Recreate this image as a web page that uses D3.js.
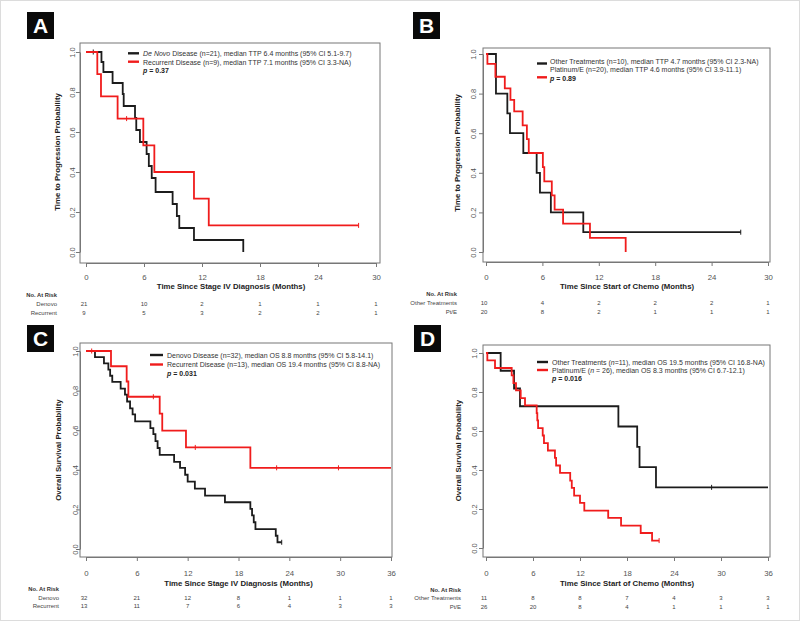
<!DOCTYPE html>
<html>
<head>
<meta charset="utf-8">
<script src="https://cdn.jsdelivr.net/npm/d3@7"></script>
<style>
  body { margin: 0; background: #fff; }
  text { font-family: Arial, "Liberation Sans", sans-serif; }
</style>
</head>
<body>
<svg id="chart" width="800" height="621"></svg>
<script>
// ---- shared ticks ----
const yTicks = [0, 0.2, 0.4, 0.6, 0.8, 1.0];
const ttpTicks = [0, 6, 12, 18, 24, 30];
const osTicks = [0, 6, 12, 18, 24, 30, 36];

// ---- panel A: TTP by disease type ----
const aDenovoTime = [1.6, 1.8, 2.75, 3.8, 3.9, 5.07, 5.2, 5.58, 6.27, 6.5, 6.8, 7.2, 8.96, 9.4, 9.65, 11.17, 16.27];
const aDenovoSurv = [0.95, 0.90, 0.845, 0.79, 0.73, 0.67, 0.61, 0.55, 0.49, 0.43, 0.37, 0.30, 0.24, 0.18, 0.12, 0.06, 0];
const aDenovoEnd = 16.27;
const aDenovoCensor = [0.75];
const aRecurTime = [1.17, 1.55, 3.27, 5.93, 7.07, 11.17, 12.7];
const aRecurSurv = [0.889, 0.778, 0.667, 0.533, 0.40, 0.267, 0.133];
const aRecurEnd = 28.2;
const aRecurCensor = [4.2, 28.2];
const aRiskDenovo = [21, 10, 2, 1, 1, 1];
const aRiskRecur = [9, 5, 3, 2, 2, 1];

// ---- panel B: TTP by treatment ----
const bOtherTime = [1.06, 2.27, 2.55, 3.97, 5.39, 5.74, 6.9, 10.35];
const bOtherSurv = [0.8, 0.7, 0.6, 0.5, 0.4, 0.3, 0.2, 0.1];
const bOtherEnd = 27.1;
const bOtherCensor = [27.1];
const bPlatTime = [0.15, 1.0, 2.0, 2.6, 3.0, 3.9, 4.35, 4.55, 6.05, 6.2, 7.0, 7.3, 8.2, 11.06, 14.86];
const bPlatSurv = [0.95, 0.885, 0.826, 0.768, 0.71, 0.64, 0.57, 0.5, 0.429, 0.357, 0.286, 0.214, 0.143, 0.071, 0];
const bPlatEnd = 14.86;
const bPlatCensor = [];
const bRiskOther = [10, 4, 2, 2, 2, 1];
const bRiskPlat = [20, 8, 2, 1, 1, 1];

// ---- panel C: OS by disease type ----
const cDenovoTime = [1.06, 2.12, 2.64, 2.85, 3.1, 4.09, 4.6, 4.85, 5.2, 5.5, 5.8, 7.6, 7.95, 8.2, 8.45, 8.7,
  10.4, 11.1, 11.7, 12.0, 12.85, 14.05, 16.4, 19.4, 19.6, 19.8, 20.0, 22.4, 22.6];
const cDenovoSurv = [0.969, 0.938, 0.906, 0.875, 0.844, 0.81, 0.78, 0.745, 0.71, 0.68, 0.645, 0.61, 0.58, 0.545, 0.51, 0.475,
  0.44, 0.41, 0.375, 0.34, 0.305, 0.27, 0.236, 0.203, 0.17, 0.135, 0.10, 0.067, 0.034];
const cDenovoEnd = 23.1;
const cDenovoCensor = [23.1];
const cRecurTime = [2.95, 4.8, 5.0, 8.7, 9.0, 11.8, 19.4];
const cRecurSurv = [0.923, 0.846, 0.769, 0.684, 0.598, 0.513, 0.41];
const cRecurEnd = 36;
const cRecurCensor = [0.67, 7.95, 12.9, 22.5, 29.8];
const cRiskDenovo = [32, 21, 12, 8, 1, 1, 1];
const cRiskRecur = [13, 11, 7, 6, 4, 3, 3];

// ---- panel D: OS by treatment ----
const dOtherTime = [1.87, 3.58, 4.34, 16.9, 19.3, 19.6, 21.7];
const dOtherSurv = [0.909, 0.818, 0.727, 0.623, 0.519, 0.415, 0.311];
const dOtherEnd = 36;
const dOtherCensor = [28.8];
const dPlatTime = [0.17, 1.15, 3.28, 3.5, 3.83, 4.43, 4.98, 6.47, 6.55, 6.65, 7.24, 7.4, 7.9, 8.8, 8.95,
  9.45, 10.75, 10.95, 11.25, 12.0, 12.55, 15.6, 17.24, 19.75, 21.2];
const dPlatSurv = [0.962, 0.923, 0.885, 0.846, 0.808, 0.769, 0.731, 0.692, 0.654, 0.615, 0.577, 0.538, 0.5, 0.462, 0.423,
  0.385, 0.346, 0.308, 0.269, 0.231, 0.192, 0.154, 0.115, 0.077, 0.038];
const dPlatEnd = 22.1;
const dPlatCensor = [22.1];
const dRiskOther = [11, 8, 8, 7, 4, 3, 3];
const dRiskPlat = [26, 20, 8, 4, 1, 1, 1];

const BLACK = "#1c1c1c";
const RED = "#f01c1c";

const panels = [
  {
    letter: "A", letterBox: [27, 12], xr: [86, 376], yr: [252, 52], frame: [80, 43, 380, 263],
    ticks: ttpTicks, xmax: 30, tickY: 280, yTickX: 72,
    xTitle: "Time Since Stage IV Diagnosis (Months)", xTitleY: 289,
    yTitle: "Time to Progression Probability", yTitleX: 57,
    curves: [
      { time: aDenovoTime, surv: aDenovoSurv, end: aDenovoEnd, censor: aDenovoCensor, color: BLACK },
      { time: aRecurTime, surv: aRecurSurv, end: aRecurEnd, censor: aRecurCensor, color: RED }
    ],
    legend: {
      lineX: [128, 139], textX: 143, textRows: [53, 62, 70], lineRows: [53.3, 61.7],
      rows: [[["De Novo", "italic"], [" Disease (n=21), median TTP 6.4 months (95% CI 5.1-9.7)", ""]],
             [["Recurrent Disease (n=9), median TTP 7.1 months (95% CI 3.3-NA)", ""]]],
      p: "0.37"
    },
    risk: { labelX: 57, headerY: 294.5, rows: [304, 313], labels: ["Denovo", "Recurrent"], values: [aRiskDenovo, aRiskRecur] }
  },
  {
    letter: "B", letterBox: [413, 12], xr: [486, 768], yr: [252, 54], frame: [483, 48, 770, 262],
    ticks: ttpTicks, xmax: 30, tickY: 280, yTickX: 473,
    xTitle: "Time Since Start of Chemo (Months)", xTitleY: 289,
    yTitle: "Time to Progression Probability", yTitleX: 457,
    curves: [
      { time: bOtherTime, surv: bOtherSurv, end: bOtherEnd, censor: bOtherCensor, color: BLACK },
      { time: bPlatTime, surv: bPlatSurv, end: bPlatEnd, censor: bPlatCensor, color: RED }
    ],
    legend: {
      lineX: [537, 547], textX: 550, textRows: [61, 69.5, 78], lineRows: [63.5, 77.3],
      rows: [[["Other Treatments (n=10), median TTP 4.7 months (95% CI 2.3-NA)", ""]],
             [["Platinum/E (n=20), median TTP 4.6 months (95% CI 3.9-11.1)", ""]]],
      p: "0.89"
    },
    risk: { labelX: 457, headerY: 293.5, rows: [302.7, 311.7], labels: ["Other Treatments", "Pt/E"], values: [bRiskOther, bRiskPlat] }
  },
  {
    letter: "C", letterBox: [27, 325], xr: [86, 391], yr: [549, 351], frame: [80, 343, 392, 557],
    ticks: osTicks, xmax: 36, tickY: 575.5, yTickX: 75,
    xTitle: "Time Since Stage IV Diagnosis (Months)", xTitleY: 586,
    yTitle: "Overall Survival Probability", yTitleX: 58,
    curves: [
      { time: cDenovoTime, surv: cDenovoSurv, end: cDenovoEnd, censor: cDenovoCensor, color: BLACK },
      { time: cRecurTime, surv: cRecurSurv, end: cRecurEnd, censor: cRecurCensor, color: RED }
    ],
    legend: {
      lineX: [150, 163], textX: 167, textRows: [355, 364.5, 373], lineRows: [355, 364.5],
      rows: [[["Denovo Disease (n=32), median OS 8.8 months (95% CI 5.8-14.1)", ""]],
             [["Recurrent Disease (n=13), median OS 19.4 months (95% CI 8.8-NA)", ""]]],
      p: "0.031"
    },
    risk: { labelX: 59, headerY: 588.5, rows: [597.7, 606], labels: ["Denovo", "Recurrent"], values: [cRiskDenovo, cRiskRecur] }
  },
  {
    letter: "D", letterBox: [414, 325], xr: [486, 768], yr: [548, 353], frame: [483, 345, 770, 557],
    ticks: osTicks, xmax: 36, tickY: 575.5, yTickX: 474,
    xTitle: "Time Since Start of Chemo (Months)", xTitleY: 586,
    yTitle: "Overall Survival Probability", yTitleX: 458,
    curves: [
      { time: dOtherTime, surv: dOtherSurv, end: dOtherEnd, censor: dOtherCensor, color: BLACK },
      { time: dPlatTime, surv: dPlatSurv, end: dPlatEnd, censor: dPlatCensor, color: RED }
    ],
    legend: {
      lineX: [537, 548], textX: 552, textRows: [362, 370, 378.3], lineRows: [362, 370],
      rows: [[["Other Treatments (", ""], ["n", "italic"], ["=11), median OS 19.5 months (95% CI 16.8-NA)", ""]],
             [["Platinum/E (", ""], ["n", "italic"], [" = 26), median OS 8.3 months (95% CI 6.7-12.1)", ""]]],
      p: "0.016"
    },
    risk: { labelX: 461, headerY: 590, rows: [598.3, 606.7], labels: ["Other Treatments", "Pt/E"], values: [dRiskOther, dRiskPlat] }
  }
];

const svg = d3.select("#chart");

// faint outer frame
svg.append("rect").attr("x", 0.5).attr("y", 0.5).attr("width", 799).attr("height", 620)
  .attr("fill", "#fff").attr("stroke", "#dcdcdc");

function survAt(curve, t) {
  let s = 1;
  curve.time.forEach((ti, i) => { if (ti <= t) s = curve.surv[i]; });
  return s;
}

panels.forEach(p => {
  const g = svg.append("g");
  const x = d3.scaleLinear().domain([0, p.xmax]).range(p.xr);
  const y = d3.scaleLinear().domain([0, 1]).range(p.yr);
  const [fx0, fy0, fx1, fy1] = p.frame;

  // panel letter
  g.append("rect").attr("x", p.letterBox[0]).attr("y", p.letterBox[1])
    .attr("width", 27).attr("height", 27).attr("fill", "#0a0a0a");
  g.append("text").attr("x", p.letterBox[0] + 13.5).attr("y", p.letterBox[1] + 21)
    .attr("text-anchor", "middle").attr("fill", "#fff")
    .attr("font-size", 21).attr("font-weight", "bold").text(p.letter);

  // box
  g.append("rect").attr("x", fx0).attr("y", fy0).attr("width", fx1 - fx0).attr("height", fy1 - fy0)
    .attr("fill", "none").attr("stroke", "#777").attr("stroke-width", 1);

  // x axis
  const xa = g.append("g").attr("transform", `translate(0,${fy1})`)
    .call(d3.axisBottom(x).tickValues(p.ticks).tickSize(4).tickSizeOuter(0));
  xa.selectAll("path,line").attr("stroke", "#777");
  xa.selectAll("text").attr("y", p.tickY - fy1).attr("dy", 0)
    .attr("font-size", 7.8).attr("fill", "#555").attr("font-family", null);

  // y axis
  const ya = g.append("g").attr("transform", `translate(${fx0},0)`)
    .call(d3.axisLeft(y).tickValues(yTicks).tickFormat(d3.format(".1f")).tickSize(4).tickSizeOuter(0));
  ya.selectAll("path,line").attr("stroke", "#777");
  ya.selectAll("text").attr("transform", "rotate(-90)").attr("x", 0)
    .attr("y", -(fx0 - p.yTickX - 2.6)).attr("dy", 0).attr("text-anchor", "middle")
    .attr("font-size", 7.5).attr("fill", "#555").attr("font-family", null);

  // titles
  g.append("text").attr("x", (p.xr[0] + p.xr[1]) / 2).attr("y", p.xTitleY)
    .attr("text-anchor", "middle").attr("font-size", 7.8).attr("font-weight", "bold")
    .attr("fill", "#222").text(p.xTitle);
  const yc = (p.yr[0] + p.yr[1]) / 2;
  g.append("text").attr("transform", `translate(${p.yTitleX + 2.7},${yc}) rotate(-90)`)
    .attr("text-anchor", "middle").attr("font-size", 7.8).attr("font-weight", "bold")
    .attr("fill", "#222").text(p.yTitle);

  // curves
  const line = d3.line().x(d => x(d[0])).y(d => y(d[1])).curve(d3.curveStepAfter);
  p.curves.forEach(c => {
    const pts = [[0, 1]].concat(c.time.map((t, i) => [t, c.surv[i]]));
    pts.push([c.end, c.surv[c.surv.length - 1]]);
    g.append("path").datum(pts).attr("d", line)
      .attr("fill", "none").attr("stroke", c.color).attr("stroke-width", 1.8);
    g.selectAll(null).data(c.censor).enter().append("line")
      .attr("x1", d => x(d)).attr("x2", d => x(d))
      .attr("y1", d => y(survAt(c, d)) - 2.5).attr("y2", d => y(survAt(c, d)) + 2.5)
      .attr("stroke", c.color).attr("stroke-width", 1);
  });

  // legend
  const L = p.legend;
  [BLACK, RED].forEach((col, i) => {
    g.append("line").attr("x1", L.lineX[0]).attr("x2", L.lineX[1])
      .attr("y1", L.lineRows[i]).attr("y2", L.lineRows[i])
      .attr("stroke", col).attr("stroke-width", 2.4);
  });
  L.rows.forEach((segs, i) => {
    const t = g.append("text").attr("x", L.textX).attr("y", L.textRows[i] + 2.5)
      .attr("font-size", 7).attr("fill", "#333");
    segs.forEach(s => t.append("tspan").attr("font-style", s[1] || null).text(s[0]));
  });
  const pt = g.append("text").attr("x", L.textX).attr("y", L.textRows[2] + 2.5)
    .attr("font-size", 7).attr("font-weight", "bold").attr("fill", "#222");
  pt.append("tspan").attr("font-style", "italic").text("p");
  pt.append("tspan").text(" = " + p.legend.p);

  // at-risk table
  const R = p.risk;
  g.append("text").attr("x", R.labelX).attr("y", R.headerY + 2)
    .attr("text-anchor", "end").attr("font-size", 5.8).attr("font-weight", "bold")
    .attr("fill", "#333").text("No. At Risk");
  R.labels.forEach((lab, i) => {
    g.append("text").attr("x", R.labelX).attr("y", R.rows[i] + 2)
      .attr("text-anchor", "end").attr("font-size", 6).attr("fill", "#444").text(lab);
    g.selectAll(null).data(R.values[i]).enter().append("text")
      .attr("x", (d, j) => x(p.ticks[j]) - (j === 0 ? 2 : 0)).attr("y", R.rows[i] + 2)
      .attr("text-anchor", "middle").attr("font-size", 6).attr("fill", "#444").text(d => d);
  });
});
</script>
</body>
</html>
